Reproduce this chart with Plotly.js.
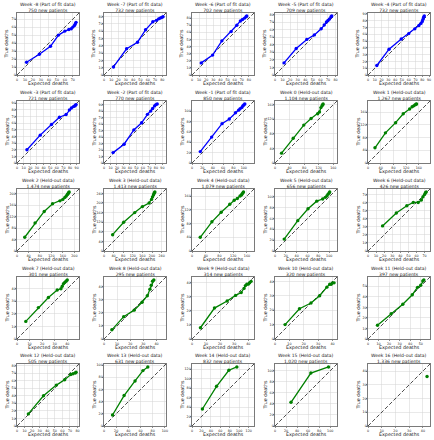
<!DOCTYPE html>
<html><head><meta charset="utf-8">
<script src="https://cdn.plot.ly/plotly-3.0.1.min.js"></script>
<style>html,body{margin:0;padding:0;background:#fff}#chart{width:434px;height:440px}</style>
</head><body><div id="chart"></div>
<script>
// ---------- data ----------
const weeks = [-8,-7,-6,-5,-4,-3,-2,-1,0,1,2,3,4,5,6,7,8,9,10,11,12,13,14,15,16];
const newPatients = ["750","732","702","709","732","721","770","850","1,104","1,267","1,474","1,413","1,079","656","426","301","295","314","320","397","505","631","832","1,020","1,336"];
const expectedDeaths = [
  [12,28,42,52,60,65,68,70,72,73,74],
  [13,31,46,57,67,72,75,77,79,81],
  [13,29,42,55,63,68,71,74,76,77],
  [12,28,42,52,61,65,68,70,72,74,75],
  [13,31,49,60,69,75,78,80,81,82,83],
  [15,35,52,64,74,79,82,85,87,88,89],
  [14,31,46,58,67,72,75,78,80,82],
  [16,38,58,72,84,90,93,96,98,100,102],
  [18,50,79,99,117,122,126,129,131,132],
  [22,55,87,111,131,139,144,148,151,153],
  [27,63,95,124,150,160,167,172,176,178,180,182],
  [36,82,128,160,188,198,202,206,208,210,212],
  [24,58,85,110,123,132,140,144,146,148,150],
  [17,42,61,77,88,93,96,98,100,101],
  [18,35,48,56,62,66,68,70,71,72],
  [7,17,25,32,35,36,37,38,39,40],
  [6,15,23,29,33,35,36,37,38],
  [6,16,25,31,35,37,38,39,40,41,42],
  [7,17,25,31,36,38,39,40,41],
  [9,22,33,42,47,50,52,53],
  [15,35,52,63,71,74,77,78],
  [14,33,51,64,72],
  [22,52,78,95],
  [29,65,97],
  [43]
];
const trueDeaths = [
  [16,26,36,50,55,57,58,60,62,64,66],
  [11,36,45,62,73,75,77,78,79,80],
  [17,28,48,61,70,76,78,80,82,83],
  [16,35,47,53,61,66,70,72,74,77,78],
  [14,38,53,61,68,73,76,79,82,85,87],
  [20,42,58,69,73,80,83,85,86,87,88],
  [16,29,51,62,75,80,84,88,90,91],
  [22,50,76,85,97,102,105,107,110,112,114],
  [27,68,104,122,135,140,152,157,160,162],
  [48,95,127,155,170,177,180,183,185,186],
  [48,98,138,165,175,180,187,192,197,200,203,206],
  [68,120,160,185,200,215,225,233,238,243,246],
  [40,85,113,136,148,153,160,163,166,169,172],
  [22,56,78,92,96,99,102,105,107,109],
  [31,47,56,60,60,63,67,70,72,73],
  [14,25,33,39,40,42,44,45,46,47],
  [7,17,22,28,33,38,41,44,45],
  [8,22,27,31,33,36,38,39,39,40,41],
  [10,21,25,30,36,38,38,39,39],
  [13,24,33,42,49,51,55,56],
  [16,40,54,61,68,69,70,71],
  [18,50,74,91,97],
  [36,84,118,125],
  [43,96,107],
  [36]
];
const tickStep = [10,10,10,10,10,10,10,20,40,40,40,40,40,20,10,10,10,10,10,10,10,20,20,20,10];

// ---------- layout ----------
const W = 434, H = 440;
const colLeft = [17, 104, 192, 275, 368];
const rowTop = [13, 101, 189, 277, 364];
const pw = 62, ph = 62;
const FONT = "DejaVu Sans, Liberation Sans, sans-serif";

const traces = [];
const layout = {
  width: W, height: H, margin: {l:0, r:0, t:0, b:0},
  paper_bgcolor: '#fff', plot_bgcolor: '#fff', showlegend: false,
  font: {family: FONT, color: '#222'},
  annotations: []
};

weeks.forEach((wk, i) => {
  const r = Math.floor(i / 5), c = i % 5;
  const n = i + 1;
  const xa = n === 1 ? 'x' : 'x' + n, ya = n === 1 ? 'y' : 'y' + n;
  const xs = expectedDeaths[i], ys = trueDeaths[i];
  const M = Math.max(...xs, ...ys) * 1.05;
  const fit = wk < 0;
  const col = fit ? '#0000ff' : '#008000';
  traces.push({x: [0, M], y: [0, M], xaxis: xa, yaxis: ya, mode: 'lines',
    line: {color: '#000', width: 0.7, dash: '4px,2px'}, hoverinfo: 'skip'});
  traces.push({x: xs, y: ys, xaxis: xa, yaxis: ya, mode: 'lines+markers',
    line: {color: col, width: 1.3}, marker: {color: col, size: 3.4}});
  const L = colLeft[c], T = rowTop[r];
  const ax = {
    range: [0, M], dtick: tickStep[i], tick0: 0, showgrid: true, gridcolor: '#d4d4d4', gridwidth: 0.5,
    zeroline: false, showline: true, mirror: true, linecolor: '#222', linewidth: 0.6,
    ticks: 'outside', ticklen: 1, tickwidth: 0.5, tickcolor: '#222',
    tickfont: {size: 3.3, family: FONT, color: '#222'}, fixedrange: true
  };
  layout[n === 1 ? 'xaxis' : 'xaxis' + n] = Object.assign({}, ax, {
    domain: [L / W, (L + pw) / W], anchor: ya, ticklabelstandoff: -1.5
  });
  layout[n === 1 ? 'yaxis' : 'yaxis' + n] = Object.assign({}, ax, {
    domain: [1 - (T + ph) / H, 1 - T / H], anchor: xa, ticklabelstandoff: -1
  });
  const cx = (L + pw / 2) / W;
  const tag = fit ? '(Part of fit data)' : '(Held-out data)';
  layout.annotations.push({xref: 'paper', yref: 'paper', x: cx, y: 1 - (T - 5.2) / H,
    text: 'Week ' + wk + ' ' + tag + '<br>' + newPatients[i] + ' new patients',
    showarrow: false, xanchor: 'center', yanchor: 'middle',
    font: {size: 4.5, family: FONT, color: '#222'}});
  layout.annotations.push({xref: 'paper', yref: 'paper', x: cx, y: 1 - (T + ph + 8.2) / H,
    text: 'Expected deaths', showarrow: false, xanchor: 'center', yanchor: 'middle',
    font: {size: 4.8, family: FONT, color: '#222'}});
  layout.annotations.push({xref: 'paper', yref: 'paper', x: (L - 10.5) / W, y: 1 - (T + ph / 2) / H,
    text: 'True deaths', textangle: -90, showarrow: false, xanchor: 'center', yanchor: 'middle',
    font: {size: 4.8, family: FONT, color: '#222'}});
});

Plotly.newPlot('chart', traces, layout, {staticPlot: true, displayModeBar: false});
</script>
</body></html>
